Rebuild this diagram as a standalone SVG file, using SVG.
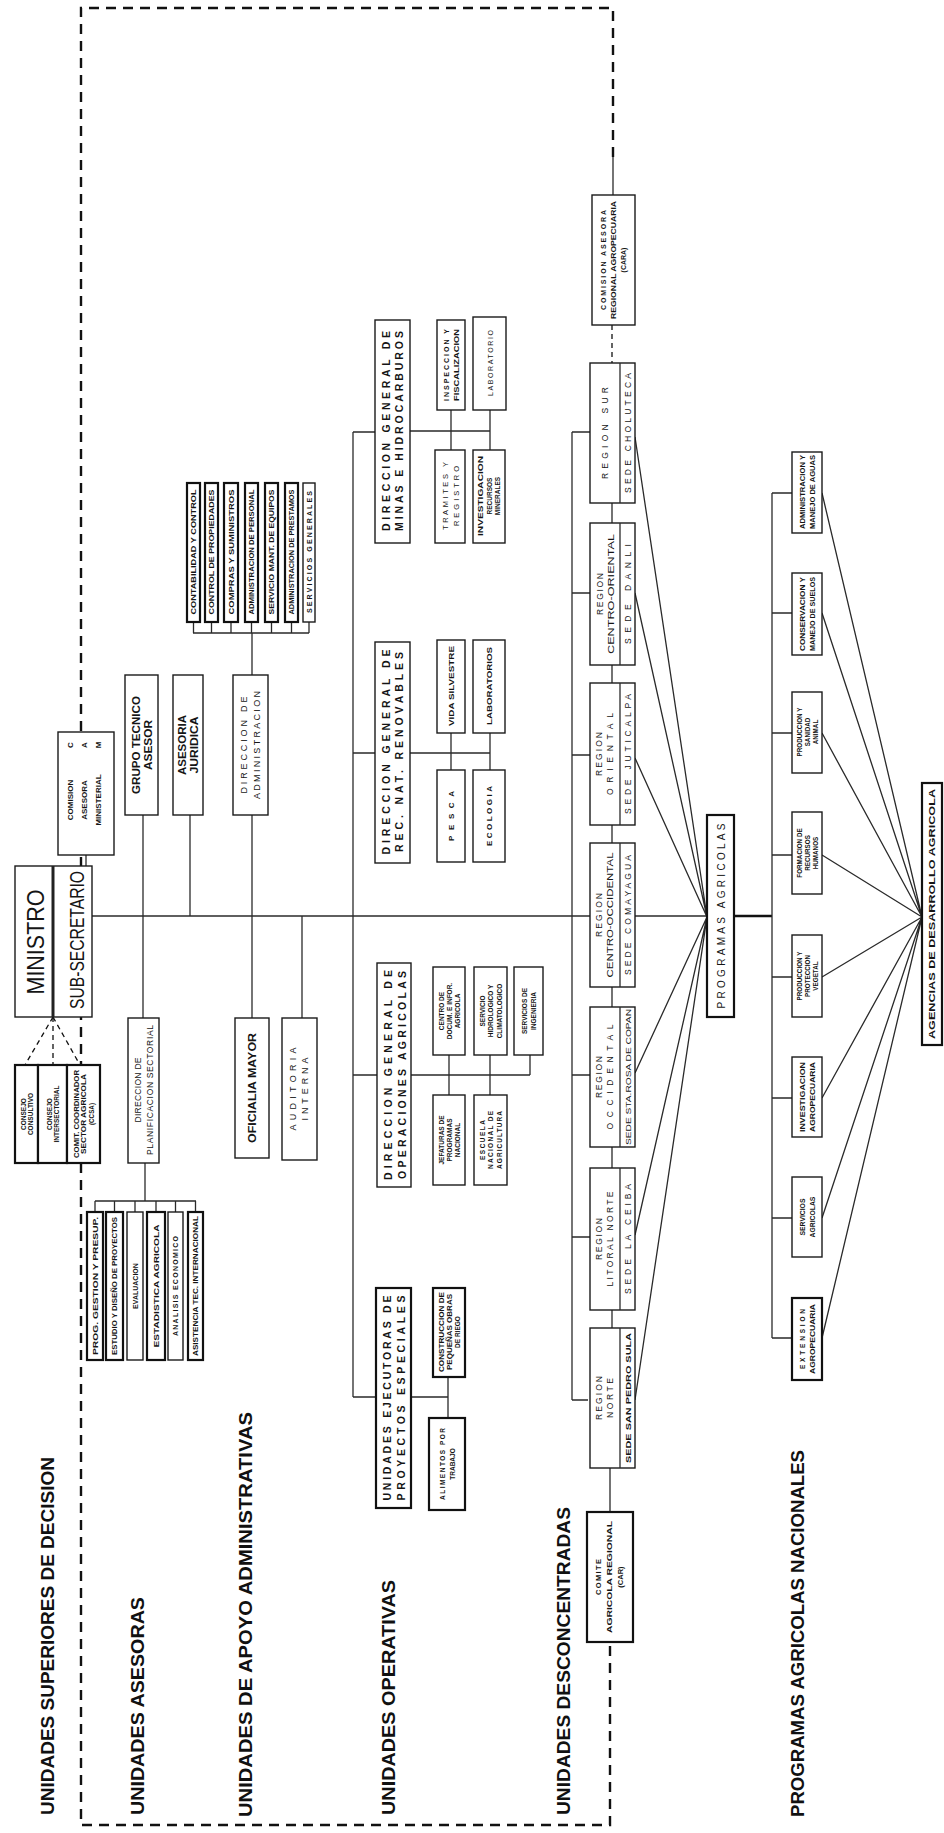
<svg xmlns="http://www.w3.org/2000/svg" width="944" height="1833" viewBox="0 0 944 1833">
<style>
.bx{fill:#fff;stroke:#1a1a1a;stroke-width:1.4}
.bk{fill:#fff;stroke:#111;stroke-width:2.2}
.ln{fill:none;stroke:#2a2a2a;stroke-width:1.3}
.lt{fill:none;stroke:#111;stroke-width:2.4}
.dl{fill:none;stroke:#111;stroke-width:1.3;stroke-dasharray:5 4}
.border{fill:none;stroke:#111;stroke-width:2.4;stroke-dasharray:10 7}
.t{font-family:"Liberation Sans",Arial,sans-serif;fill:#151515;text-anchor:middle;dominant-baseline:central}
.b{font-weight:bold}
.lab{font-family:"Liberation Sans",Arial,sans-serif;font-weight:bold;font-size:19px;fill:#111;dominant-baseline:central;text-anchor:start}
</style>
<rect width="944" height="1833" fill="#fff"/>

<g id="connectors">
<path class="border" d="M613 157 L613 8 L81 8 L81 1825 L610 1825 L610 1642"/>
<line class="ln" x1="613" y1="157" x2="613" y2="195"/>
<line class="dl" x1="612" y1="325" x2="612" y2="363"/>
<!-- trunk -->
<line class="ln" x1="92" y1="916" x2="590" y2="916"/>
<line class="ln" x1="635" y1="916" x2="707" y2="916"/>
<!-- consejos -->
<line class="dl" x1="53" y1="1017" x2="25" y2="1065"/>
<line class="dl" x1="53" y1="1017" x2="53" y2="1065"/>
<line class="dl" x1="53" y1="1017" x2="80" y2="1065"/>
<line class="ln" x1="86" y1="855" x2="86" y2="866"/>
<!-- asesoras -->
<line class="ln" x1="143" y1="815" x2="143" y2="1018"/>
<line class="ln" x1="190" y1="815" x2="190" y2="916"/>
<line class="ln" x1="145" y1="1163" x2="145" y2="1201"/>
<path class="ln" d="M95 1201 H196 M95 1201 V1212 M114.5 1201 V1212 M135 1201 V1212 M156 1201 V1212 M175.5 1201 V1212 M195.5 1201 V1212"/>
<!-- apoyo -->
<line class="ln" x1="252" y1="633" x2="252" y2="675"/>
<line class="ln" x1="252" y1="815" x2="252" y2="1018"/>
<line class="ln" x1="302" y1="916" x2="302" y2="1018"/>
<path class="ln" d="M193 633 H309 M193.5 633 V622 M211.5 633 V622 M231 633 V622 M251.5 633 V622 M271.5 633 V622 M291.5 633 V622 M309 633 V622"/>
<!-- operativas -->
<line class="ln" x1="353" y1="432" x2="353" y2="1397"/>
<path class="ln" d="M353 432 H375 M353 753 H375 M353 1075 H377 M353 1397 H376"/>
<path class="ln" d="M410 431 H490 M451 410 V450 M490 410 V450"/>
<path class="ln" d="M410 753 H490 M451 733 V770 M490 733 V770"/>
<path class="ln" d="M411 1075 H530 M449 1055 V1095 M490 1055 V1095 M530 1055 V1075"/>
<path class="ln" d="M411 1397 H448 M448 1377 V1418"/>
<!-- regiones -->
<line class="ln" x1="572" y1="432" x2="572" y2="1400"/>
<path class="ln" d="M572 432 H590 M572 593 H590 M572 755 H590 M572 1075 H590 M572 1237 H590 M572 1400 H588"/>
<path class="ln" d="M612 503 V523 M612 665 V683 M612 825 V843 M612 987 V1007 M612 1147 V1168 M612 1310 V1328 M610 1468 V1512"/>
<path class="ln" d="M635 437 L707 917 M635 593 L707 917 M635 758 L707 917 M635 1073 L707 917 M635 1235 L707 917 M635 1400 L707 917"/>
<!-- programas -->
<line class="lt" x1="734" y1="916" x2="772" y2="916"/>
<line class="ln" x1="772" y1="493" x2="772" y2="1338"/>
<path class="ln" d="M772 493 H792 M772 613 H792 M772 733 H792 M772 855 H792 M772 977 H792 M772 1098 H792 M772 1218 H792 M772 1338 H792"/>
<path class="ln" d="M822 493 L922 917 M822 613 L922 917 M822 733 L922 917 M822 855 L922 917 M822 977 L922 917 M822 1098 L922 917 M822 1218 L922 917 M822 1338 L922 917"/>
</g>

<g id="labels">
<text class="lab" transform="rotate(-90 47 1815)" x="47" y="1815" textLength="358" lengthAdjust="spacingAndGlyphs">UNIDADES SUPERIORES DE DECISION</text>
<text class="lab" transform="rotate(-90 137 1815)" x="137" y="1815" textLength="218" lengthAdjust="spacingAndGlyphs">UNIDADES ASESORAS</text>
<text class="lab" transform="rotate(-90 245 1817)" x="245" y="1817" textLength="405" lengthAdjust="spacingAndGlyphs">UNIDADES DE APOYO ADMINISTRATIVAS</text>
<text class="lab" transform="rotate(-90 388 1815)" x="388" y="1815" textLength="235" lengthAdjust="spacingAndGlyphs">UNIDADES OPERATIVAS</text>
<text class="lab" transform="rotate(-90 563 1815)" x="563" y="1815" textLength="308" lengthAdjust="spacingAndGlyphs">UNIDADES DESCONCENTRADAS</text>
<text class="lab" transform="rotate(-90 797 1817)" x="797" y="1817" textLength="367" lengthAdjust="spacingAndGlyphs">PROGRAMAS AGRICOLAS NACIONALES</text>
</g>

<g id="ministro">
<rect class="bx" x="15" y="866" width="77" height="151"/>
<line x1="53" y1="866" x2="53" y2="1017" stroke="#222" stroke-width="3"/>
<text class="t" font-size="24" transform="rotate(-90 35 942)" x="35" y="942" textLength="105" lengthAdjust="spacingAndGlyphs">MINISTRO</text>
<text class="t" font-size="21" transform="rotate(-90 76 940)" x="76" y="940" textLength="138" lengthAdjust="spacingAndGlyphs">SUB-SECRETARIO</text>
</g>

<g id="cam">
<rect class="bx" x="58" y="732" width="56" height="123"/>
<text class="t b" font-size="8" transform="rotate(-90 70 800)" x="70" y="800">COMISION</text>
<text class="t b" font-size="8" transform="rotate(-90 84 800)" x="84" y="800">ASESORA</text>
<text class="t b" font-size="8" transform="rotate(-90 98 800)" x="98" y="800">MINISTERIAL</text>
<text class="t b" font-size="8" transform="rotate(-90 70 745)" x="70" y="745">C</text>
<text class="t b" font-size="8" transform="rotate(-90 84 745)" x="84" y="745">A</text>
<text class="t b" font-size="8" transform="rotate(-90 98 745)" x="98" y="745">M</text>
</g>

<g id="consejos">
<rect class="bk" x="15" y="1065" width="23" height="98"/>
<rect class="bk" x="38" y="1065" width="29" height="98"/>
<rect class="bk" x="67" y="1065" width="33" height="98"/>
<text class="t b" font-size="6.5" transform="rotate(-90 23 1114)" x="23" y="1114">CONSEJO</text>
<text class="t b" font-size="6.5" transform="rotate(-90 30.5 1114)" x="30.5" y="1114">CONSULTIVO</text>
<text class="t b" font-size="6.5" transform="rotate(-90 49 1114)" x="49" y="1114">CONSEJO</text>
<text class="t b" font-size="6.5" transform="rotate(-90 56.5 1114)" x="56.5" y="1114">INTERSECTORIAL</text>
<text class="t b" font-size="6.3" transform="rotate(-90 76 1114)" x="76" y="1114" textLength="88" lengthAdjust="spacingAndGlyphs">COMIT. COORDINADOR</text>
<text class="t b" font-size="6.3" transform="rotate(-90 83.5 1114)" x="83.5" y="1114" textLength="80" lengthAdjust="spacingAndGlyphs">SECTOR AGRICOLA</text>
<text class="t b" font-size="6.3" transform="rotate(-90 91 1114)" x="91" y="1114">(CCSA)</text>
</g>

<g id="grupo-tecnico">
<rect class="bx" x="125" y="675" width="33" height="140"/>
<text class="t b" font-size="10" transform="rotate(-90 136 745)" x="136" y="745" textLength="98" lengthAdjust="spacingAndGlyphs">GRUPO TECNICO</text>
<text class="t b" font-size="10" transform="rotate(-90 148 745)" x="148" y="745" textLength="50" lengthAdjust="spacingAndGlyphs">ASESOR</text>
</g>

<g id="asesoria-juridica">
<rect class="bx" x="173" y="675" width="30" height="140"/>
<text class="t b" font-size="10" transform="rotate(-90 182 745)" x="182" y="745" textLength="60" lengthAdjust="spacingAndGlyphs">ASESORIA</text>
<text class="t b" font-size="10" transform="rotate(-90 194 745)" x="194" y="745" textLength="57" lengthAdjust="spacingAndGlyphs">JURIDICA</text>
</g>

<g id="direccion-administracion">
<rect class="bx" x="233" y="675" width="35" height="140"/>
<text class="t" font-size="9" transform="rotate(-90 244 745)" x="244" y="745" textLength="97" lengthAdjust="spacing">DIRECCION DE</text>
<text class="t" font-size="9" transform="rotate(-90 257 745)" x="257" y="745" textLength="108" lengthAdjust="spacing">ADMINISTRACION</text>
</g>

<g id="admin-secciones">
<rect class="bk" x="187" y="483" width="13" height="139"/>
<rect class="bk" x="205" y="483" width="13" height="139"/>
<rect class="bk" x="224" y="483" width="14" height="139"/>
<rect class="bk" x="245" y="483" width="13" height="139"/>
<rect class="bk" x="265" y="483" width="13" height="139"/>
<rect class="bk" x="285" y="483" width="13" height="139"/>
<rect class="bx" x="303" y="483" width="12" height="139"/>
<text class="t b" font-size="7" transform="rotate(-90 193.5 552)" x="193.5" y="552" textLength="125" lengthAdjust="spacingAndGlyphs">CONTABILIDAD Y CONTROL</text>
<text class="t b" font-size="7" transform="rotate(-90 211.5 552)" x="211.5" y="552" textLength="125" lengthAdjust="spacingAndGlyphs">CONTROL DE PROPIEDADES</text>
<text class="t b" font-size="7" transform="rotate(-90 231 552)" x="231" y="552" textLength="125" lengthAdjust="spacingAndGlyphs">COMPRAS Y SUMINISTROS</text>
<text class="t b" font-size="7" transform="rotate(-90 251.5 552)" x="251.5" y="552" textLength="125" lengthAdjust="spacingAndGlyphs">ADMINISTRACION DE PERSONAL</text>
<text class="t b" font-size="7" transform="rotate(-90 271.5 552)" x="271.5" y="552" textLength="125" lengthAdjust="spacingAndGlyphs">SERVICIO MANT. DE EQUIPOS</text>
<text class="t b" font-size="7" transform="rotate(-90 291.5 552)" x="291.5" y="552" textLength="125" lengthAdjust="spacingAndGlyphs">ADMINISTRACION DE PRESTAMOS</text>
<text class="t b" font-size="7" transform="rotate(-90 309 552)" x="309" y="552" textLength="122" lengthAdjust="spacing">SERVICIOS GENERALES</text>
</g>

<g id="direccion-planificacion">
<rect class="bx" x="128" y="1018" width="31" height="145"/>
<text class="t" font-size="8.5" transform="rotate(-90 138 1090)" x="138" y="1090" textLength="65" lengthAdjust="spacing">DIRECCION DE</text>
<text class="t" font-size="8.5" transform="rotate(-90 150 1090)" x="150" y="1090" textLength="130" lengthAdjust="spacing">PLANIFICACION SECTORIAL</text>
</g>

<g id="planificacion-secciones">
<rect class="bk" x="87" y="1212" width="16" height="148"/>
<rect class="bk" x="106" y="1212" width="17" height="148"/>
<rect class="bx" x="127" y="1212" width="16" height="148"/>
<rect class="bk" x="147" y="1212" width="18" height="148"/>
<rect class="bx" x="168" y="1212" width="15" height="148"/>
<rect class="bk" x="188" y="1212" width="15" height="148"/>
<text class="t b" font-size="7" transform="rotate(-90 95 1286)" x="95" y="1286" textLength="138" lengthAdjust="spacingAndGlyphs">PROG. GESTION Y PRESUP.</text>
<text class="t b" font-size="7" transform="rotate(-90 114.5 1286)" x="114.5" y="1286" textLength="138" lengthAdjust="spacingAndGlyphs">ESTUDIO Y DISEÑO DE PROYECTOS</text>
<text class="t b" font-size="7" transform="rotate(-90 135 1286)" x="135" y="1286">EVALUACION</text>
<text class="t b" font-size="7" transform="rotate(-90 156 1286)" x="156" y="1286" textLength="123" lengthAdjust="spacingAndGlyphs">ESTADISTICA AGRICOLA</text>
<text class="t b" font-size="7" transform="rotate(-90 175.5 1286)" x="175.5" y="1286" textLength="100" lengthAdjust="spacing">ANALISIS ECONOMICO</text>
<text class="t b" font-size="7" transform="rotate(-90 195.5 1286)" x="195.5" y="1286" textLength="140" lengthAdjust="spacingAndGlyphs">ASISTENCIA TEC. INTERNACIONAL</text>
</g>

<g id="oficialia-mayor">
<rect class="bx" x="235" y="1018" width="34" height="140"/>
<text class="t b" font-size="10" transform="rotate(-90 252 1088)" x="252" y="1088" textLength="110" lengthAdjust="spacingAndGlyphs">OFICIALIA MAYOR</text>
</g>

<g id="auditoria-interna">
<rect class="bx" x="282" y="1018" width="35" height="142"/>
<text class="t" font-size="9" transform="rotate(-90 293 1089)" x="293" y="1089" textLength="83" lengthAdjust="spacing">AUDITORIA</text>
<text class="t" font-size="9" transform="rotate(-90 305 1089)" x="305" y="1089" textLength="63" lengthAdjust="spacing">INTERNA</text>
</g>

<g id="dg-minas">
<rect class="bx" x="375" y="320" width="35" height="223"/>
<text class="t b" font-size="10.5" transform="rotate(-90 385.5 431)" x="385.5" y="431" textLength="200" lengthAdjust="spacing">DIRECCION GENERAL DE</text>
<text class="t b" font-size="10.5" transform="rotate(-90 399 431)" x="399" y="431" textLength="200" lengthAdjust="spacing">MINAS E HIDROCARBUROS</text>
</g>
<g id="minas-secciones">
<rect class="bx" x="437" y="320" width="28" height="90"/>
<rect class="bx" x="473" y="317" width="33" height="93"/>
<rect class="bx" x="435" y="450" width="30" height="93"/>
<rect class="bx" x="473" y="450" width="32" height="93"/>
<text class="t b" font-size="7" transform="rotate(-90 446 365)" x="446" y="365" textLength="72" lengthAdjust="spacing">INSPECCION Y</text>
<text class="t b" font-size="7" transform="rotate(-90 456 365)" x="456" y="365" textLength="72" lengthAdjust="spacingAndGlyphs">FISCALIZACION</text>
<text class="t" font-size="7" transform="rotate(-90 490 363)" x="490" y="363" textLength="66" lengthAdjust="spacing">LABORATORIO</text>
<text class="t" font-size="7.5" transform="rotate(-90 445 496)" x="445" y="496" textLength="68" lengthAdjust="spacing">TRAMITES Y</text>
<text class="t" font-size="7.5" transform="rotate(-90 456 496)" x="456" y="496" textLength="60" lengthAdjust="spacing">REGISTRO</text>
<text class="t b" font-size="6.5" transform="rotate(-90 480.5 496)" x="480.5" y="496" textLength="80" lengthAdjust="spacingAndGlyphs">INVESTIGACION</text>
<text class="t b" font-size="6.5" transform="rotate(-90 489 496)" x="489" y="496">RECURSOS</text>
<text class="t b" font-size="6.5" transform="rotate(-90 497.5 496)" x="497.5" y="496">MINERALES</text>
</g>

<g id="dg-recursos">
<rect class="bx" x="375" y="642" width="35" height="221"/>
<text class="t b" font-size="10.5" transform="rotate(-90 385.5 752)" x="385.5" y="752" textLength="205" lengthAdjust="spacing">DIRECCION GENERAL DE</text>
<text class="t b" font-size="10.5" transform="rotate(-90 399 752)" x="399" y="752" textLength="200" lengthAdjust="spacing">REC. NAT. RENOVABLES</text>
</g>
<g id="recursos-secciones">
<rect class="bx" x="437" y="640" width="28" height="93"/>
<rect class="bx" x="473" y="640" width="32" height="93"/>
<rect class="bx" x="437" y="770" width="28" height="92"/>
<rect class="bx" x="473" y="770" width="32" height="92"/>
<text class="t b" font-size="7.5" transform="rotate(-90 451 686)" x="451" y="686" textLength="80" lengthAdjust="spacingAndGlyphs">VIDA SILVESTRE</text>
<text class="t b" font-size="7.5" transform="rotate(-90 489 686)" x="489" y="686" textLength="78" lengthAdjust="spacingAndGlyphs">LABORATORIOS</text>
<text class="t b" font-size="8" transform="rotate(-90 451 816)" x="451" y="816" textLength="50" lengthAdjust="spacing">PESCA</text>
<text class="t b" font-size="8" transform="rotate(-90 489 816)" x="489" y="816" textLength="60" lengthAdjust="spacing">ECOLOGIA</text>
</g>

<g id="dg-operaciones">
<rect class="bx" x="377" y="963" width="34" height="224"/>
<text class="t b" font-size="10.5" transform="rotate(-90 388 1075)" x="388" y="1075" textLength="210" lengthAdjust="spacing">DIRECCION GENERAL DE</text>
<text class="t b" font-size="10.5" transform="rotate(-90 401.5 1075)" x="401.5" y="1075" textLength="208" lengthAdjust="spacing">OPERACIONES AGRICOLAS</text>
</g>
<g id="operaciones-secciones">
<rect class="bx" x="433" y="967" width="32" height="88"/>
<rect class="bx" x="474" y="967" width="33" height="88"/>
<rect class="bx" x="514" y="967" width="29" height="88"/>
<rect class="bx" x="433" y="1095" width="32" height="90"/>
<rect class="bx" x="474" y="1095" width="33" height="90"/>
<text class="t b" font-size="6.5" transform="rotate(-90 441 1011)" x="441" y="1011">CENTRO DE</text>
<text class="t b" font-size="6.5" transform="rotate(-90 449 1011)" x="449" y="1011">DOCUM. E INFOR.</text>
<text class="t b" font-size="6.5" transform="rotate(-90 457 1011)" x="457" y="1011">AGRICOLA</text>
<text class="t b" font-size="6.5" transform="rotate(-90 482 1011)" x="482" y="1011">SERVICIO</text>
<text class="t b" font-size="6.5" transform="rotate(-90 490.5 1011)" x="490.5" y="1011">HIDROLOGICO Y</text>
<text class="t b" font-size="6.5" transform="rotate(-90 499 1011)" x="499" y="1011">CLIMATOLOGICO</text>
<text class="t b" font-size="6.5" transform="rotate(-90 524 1011)" x="524" y="1011">SERVICIOS DE</text>
<text class="t b" font-size="6.5" transform="rotate(-90 533 1011)" x="533" y="1011">INGENIERIA</text>
<text class="t b" font-size="6.5" transform="rotate(-90 441 1140)" x="441" y="1140">JEFATURAS DE</text>
<text class="t b" font-size="6.5" transform="rotate(-90 449 1140)" x="449" y="1140">PROGRAMAS</text>
<text class="t b" font-size="6.5" transform="rotate(-90 457 1140)" x="457" y="1140">NACIONAL</text>
<text class="t b" font-size="6.5" transform="rotate(-90 482 1140)" x="482" y="1140" textLength="40" lengthAdjust="spacing">ESCUELA</text>
<text class="t b" font-size="6.5" transform="rotate(-90 490.5 1140)" x="490.5" y="1140" textLength="58" lengthAdjust="spacing">NACIONAL DE</text>
<text class="t b" font-size="6.5" transform="rotate(-90 499 1140)" x="499" y="1140" textLength="58" lengthAdjust="spacing">AGRICULTURA</text>
</g>

<g id="unidades-ejecutoras">
<rect class="bk" x="376" y="1288" width="35" height="220"/>
<text class="t b" font-size="10.5" transform="rotate(-90 387 1398)" x="387" y="1398" textLength="205" lengthAdjust="spacing">UNIDADES EJECUTORAS DE</text>
<text class="t b" font-size="10.5" transform="rotate(-90 401 1398)" x="401" y="1398" textLength="205" lengthAdjust="spacing">PROYECTOS ESPECIALES</text>
</g>
<g id="ejecutoras-secciones">
<rect class="bk" x="433" y="1288" width="32" height="89"/>
<rect class="bk" x="429" y="1418" width="36" height="92"/>
<text class="t b" font-size="6.5" transform="rotate(-90 441 1332)" x="441" y="1332" textLength="80" lengthAdjust="spacingAndGlyphs">CONSTRUCCION DE</text>
<text class="t b" font-size="6.5" transform="rotate(-90 449 1332)" x="449" y="1332" textLength="76" lengthAdjust="spacingAndGlyphs">PEQUEÑAS OBRAS</text>
<text class="t b" font-size="6.5" transform="rotate(-90 457 1332)" x="457" y="1332">DE RIEGO</text>
<text class="t b" font-size="6.5" transform="rotate(-90 442 1464)" x="442" y="1464" textLength="72" lengthAdjust="spacing">ALIMENTOS POR</text>
<text class="t b" font-size="6.5" transform="rotate(-90 452 1464)" x="452" y="1464">TRABAJO</text>
</g>

<g id="cara">
<rect class="bx" x="592" y="195" width="43" height="130"/>
<text class="t b" font-size="7" transform="rotate(-90 603 260)" x="603" y="260" textLength="100" lengthAdjust="spacing">COMISION ASESORA</text>
<text class="t b" font-size="7" transform="rotate(-90 613 260)" x="613" y="260" textLength="118" lengthAdjust="spacingAndGlyphs">REGIONAL AGROPECUARIA</text>
<text class="t b" font-size="7" transform="rotate(-90 623 260)" x="623" y="260">(CARA)</text>
</g>

<g id="region-sur">
<rect class="bx" x="590" y="363" width="45" height="140"/>
<line class="ln" x1="620" y1="363" x2="620" y2="503"/>
<text class="t" font-size="8.5" transform="rotate(-90 605 433)" x="605" y="433" textLength="92" lengthAdjust="spacing">REGION SUR</text>
<text class="t" font-size="8.5" transform="rotate(-90 628 433)" x="628" y="433" textLength="120" lengthAdjust="spacing">SEDE CHOLUTECA</text>
</g>
<g id="region-centro-oriental">
<rect class="bx" x="590" y="523" width="45" height="142"/>
<line class="ln" x1="620" y1="523" x2="620" y2="665"/>
<text class="t" font-size="8.5" transform="rotate(-90 600 594)" x="600" y="594" textLength="42" lengthAdjust="spacing">REGION</text>
<text class="t" font-size="8.5" transform="rotate(-90 611 594)" x="611" y="594" textLength="120" lengthAdjust="spacingAndGlyphs">CENTRO-ORIENTAL</text>
<text class="t" font-size="8.5" transform="rotate(-90 628 594)" x="628" y="594" textLength="100" lengthAdjust="spacing">SEDE DANLI</text>
</g>
<g id="region-oriental">
<rect class="bx" x="590" y="683" width="45" height="142"/>
<line class="ln" x1="620" y1="683" x2="620" y2="825"/>
<text class="t" font-size="8.5" transform="rotate(-90 599 754)" x="599" y="754" textLength="44" lengthAdjust="spacing">REGION</text>
<text class="t" font-size="8.5" transform="rotate(-90 610 754)" x="610" y="754" textLength="82" lengthAdjust="spacing">ORIENTAL</text>
<text class="t" font-size="8.5" transform="rotate(-90 628 754)" x="628" y="754" textLength="120" lengthAdjust="spacing">SEDE JUTICALPA</text>
</g>
<g id="region-centro-occidental">
<rect class="bx" x="590" y="843" width="45" height="144"/>
<line class="ln" x1="620" y1="843" x2="620" y2="987"/>
<text class="t" font-size="8.5" transform="rotate(-90 599 915)" x="599" y="915" textLength="44" lengthAdjust="spacing">REGION</text>
<text class="t" font-size="8.5" transform="rotate(-90 610 915)" x="610" y="915" textLength="125" lengthAdjust="spacingAndGlyphs">CENTRO-OCCIDENTAL</text>
<text class="t" font-size="8.5" transform="rotate(-90 628 915)" x="628" y="915" textLength="120" lengthAdjust="spacing">SEDE COMAYAGUA</text>
</g>
<g id="region-occidental">
<rect class="bx" x="590" y="1007" width="45" height="140"/>
<line class="ln" x1="620" y1="1007" x2="620" y2="1147"/>
<text class="t" font-size="8.5" transform="rotate(-90 599 1077)" x="599" y="1077" textLength="42" lengthAdjust="spacing">REGION</text>
<text class="t" font-size="8.5" transform="rotate(-90 610 1077)" x="610" y="1077" textLength="105" lengthAdjust="spacing">OCCIDENTAL</text>
<text class="t" font-size="8" transform="rotate(-90 628 1077)" x="628" y="1077" textLength="136" lengthAdjust="spacingAndGlyphs">SEDE STA.ROSA DE COPAN</text>
</g>
<g id="region-litoral-norte">
<rect class="bx" x="590" y="1168" width="45" height="142"/>
<line class="ln" x1="620" y1="1168" x2="620" y2="1310"/>
<text class="t" font-size="8.5" transform="rotate(-90 599 1239)" x="599" y="1239" textLength="42" lengthAdjust="spacing">REGION</text>
<text class="t" font-size="8.5" transform="rotate(-90 610 1239)" x="610" y="1239" textLength="95" lengthAdjust="spacing">LITORAL NORTE</text>
<text class="t" font-size="8.5" transform="rotate(-90 628 1239)" x="628" y="1239" textLength="110" lengthAdjust="spacing">SEDE LA CEIBA</text>
</g>
<g id="region-norte">
<rect class="bx" x="590" y="1328" width="45" height="140"/>
<line class="ln" x1="620" y1="1328" x2="620" y2="1468"/>
<text class="t" font-size="8.5" transform="rotate(-90 599 1398)" x="599" y="1398" textLength="44" lengthAdjust="spacing">REGION</text>
<text class="t" font-size="8.5" transform="rotate(-90 610 1398)" x="610" y="1398" textLength="40" lengthAdjust="spacing">NORTE</text>
<text class="t b" font-size="8" transform="rotate(-90 628 1398)" x="628" y="1398" textLength="130" lengthAdjust="spacingAndGlyphs">SEDE SAN PEDRO SULA</text>
</g>

<g id="car">
<rect class="bk" x="587" y="1512" width="46" height="130"/>
<text class="t b" font-size="7.5" transform="rotate(-90 598 1577)" x="598" y="1577" textLength="36" lengthAdjust="spacing">COMITE</text>
<text class="t b" font-size="7.5" transform="rotate(-90 609 1577)" x="609" y="1577" textLength="112" lengthAdjust="spacingAndGlyphs">AGRICOLA REGIONAL</text>
<text class="t b" font-size="7.5" transform="rotate(-90 620 1577)" x="620" y="1577">(CAR)</text>
</g>

<g id="programas-agricolas">
<rect class="bk" x="707" y="815" width="27" height="202"/>
<text class="t" font-size="10" transform="rotate(-90 721 916)" x="721" y="916" textLength="185" lengthAdjust="spacing">PROGRAMAS AGRICOLAS</text>
</g>

<g id="programas-nacionales">
<rect class="bx" x="792" y="452" width="30" height="81"/>
<rect class="bx" x="792" y="573" width="30" height="82"/>
<rect class="bx" x="792" y="692" width="30" height="81"/>
<rect class="bx" x="792" y="812" width="30" height="82"/>
<rect class="bx" x="792" y="935" width="30" height="82"/>
<rect class="bx" x="792" y="1057" width="30" height="80"/>
<rect class="bx" x="792" y="1177" width="30" height="80"/>
<rect class="bk" x="792" y="1298" width="30" height="82"/>
<text class="t b" font-size="6.3" transform="rotate(-90 802 492)" x="802" y="492" textLength="74" lengthAdjust="spacingAndGlyphs">ADMINISTRACION Y</text>
<text class="t b" font-size="6.3" transform="rotate(-90 812 492)" x="812" y="492" textLength="74" lengthAdjust="spacingAndGlyphs">MANEJO DE AGUAS</text>
<text class="t b" font-size="6.3" transform="rotate(-90 802 614)" x="802" y="614" textLength="74" lengthAdjust="spacingAndGlyphs">CONSERVACION Y</text>
<text class="t b" font-size="6.3" transform="rotate(-90 812 614)" x="812" y="614" textLength="74" lengthAdjust="spacingAndGlyphs">MANEJO DE SUELOS</text>
<text class="t b" font-size="6.3" transform="rotate(-90 799 732)" x="799" y="732">PRODUCCION Y</text>
<text class="t b" font-size="6.3" transform="rotate(-90 807 732)" x="807" y="732">SANIDAD</text>
<text class="t b" font-size="6.3" transform="rotate(-90 815 732)" x="815" y="732">ANIMAL</text>
<text class="t b" font-size="6.3" transform="rotate(-90 799 853)" x="799" y="853">FORMACION DE</text>
<text class="t b" font-size="6.3" transform="rotate(-90 807 853)" x="807" y="853">RECURSOS</text>
<text class="t b" font-size="6.3" transform="rotate(-90 815 853)" x="815" y="853">HUMANOS</text>
<text class="t b" font-size="6.3" transform="rotate(-90 799 976)" x="799" y="976">PRODUCCION Y</text>
<text class="t b" font-size="6.3" transform="rotate(-90 807 976)" x="807" y="976">PROTECCION</text>
<text class="t b" font-size="6.3" transform="rotate(-90 815 976)" x="815" y="976">VEGETAL</text>
<text class="t b" font-size="6.3" transform="rotate(-90 802 1097)" x="802" y="1097" textLength="70" lengthAdjust="spacingAndGlyphs">INVESTIGACION</text>
<text class="t b" font-size="6.3" transform="rotate(-90 812 1097)" x="812" y="1097" textLength="70" lengthAdjust="spacingAndGlyphs">AGROPECUARIA</text>
<text class="t b" font-size="6.8" transform="rotate(-90 802 1217)" x="802" y="1217">SERVICIOS</text>
<text class="t b" font-size="6.8" transform="rotate(-90 812 1217)" x="812" y="1217">AGRICOLAS</text>
<text class="t b" font-size="6.5" transform="rotate(-90 802 1339)" x="802" y="1339" textLength="60" lengthAdjust="spacing">EXTENSION</text>
<text class="t b" font-size="6.5" transform="rotate(-90 812 1339)" x="812" y="1339" textLength="70" lengthAdjust="spacingAndGlyphs">AGROPECUARIA</text>
</g>

<g id="agencias">
<rect class="bk" x="922" y="783" width="20" height="262"/>
<text class="t b" font-size="9" transform="rotate(-90 932 914)" x="932" y="914" textLength="250" lengthAdjust="spacingAndGlyphs">AGENCIAS DE DESARROLLO AGRICOLA</text>
</g>
</svg>
